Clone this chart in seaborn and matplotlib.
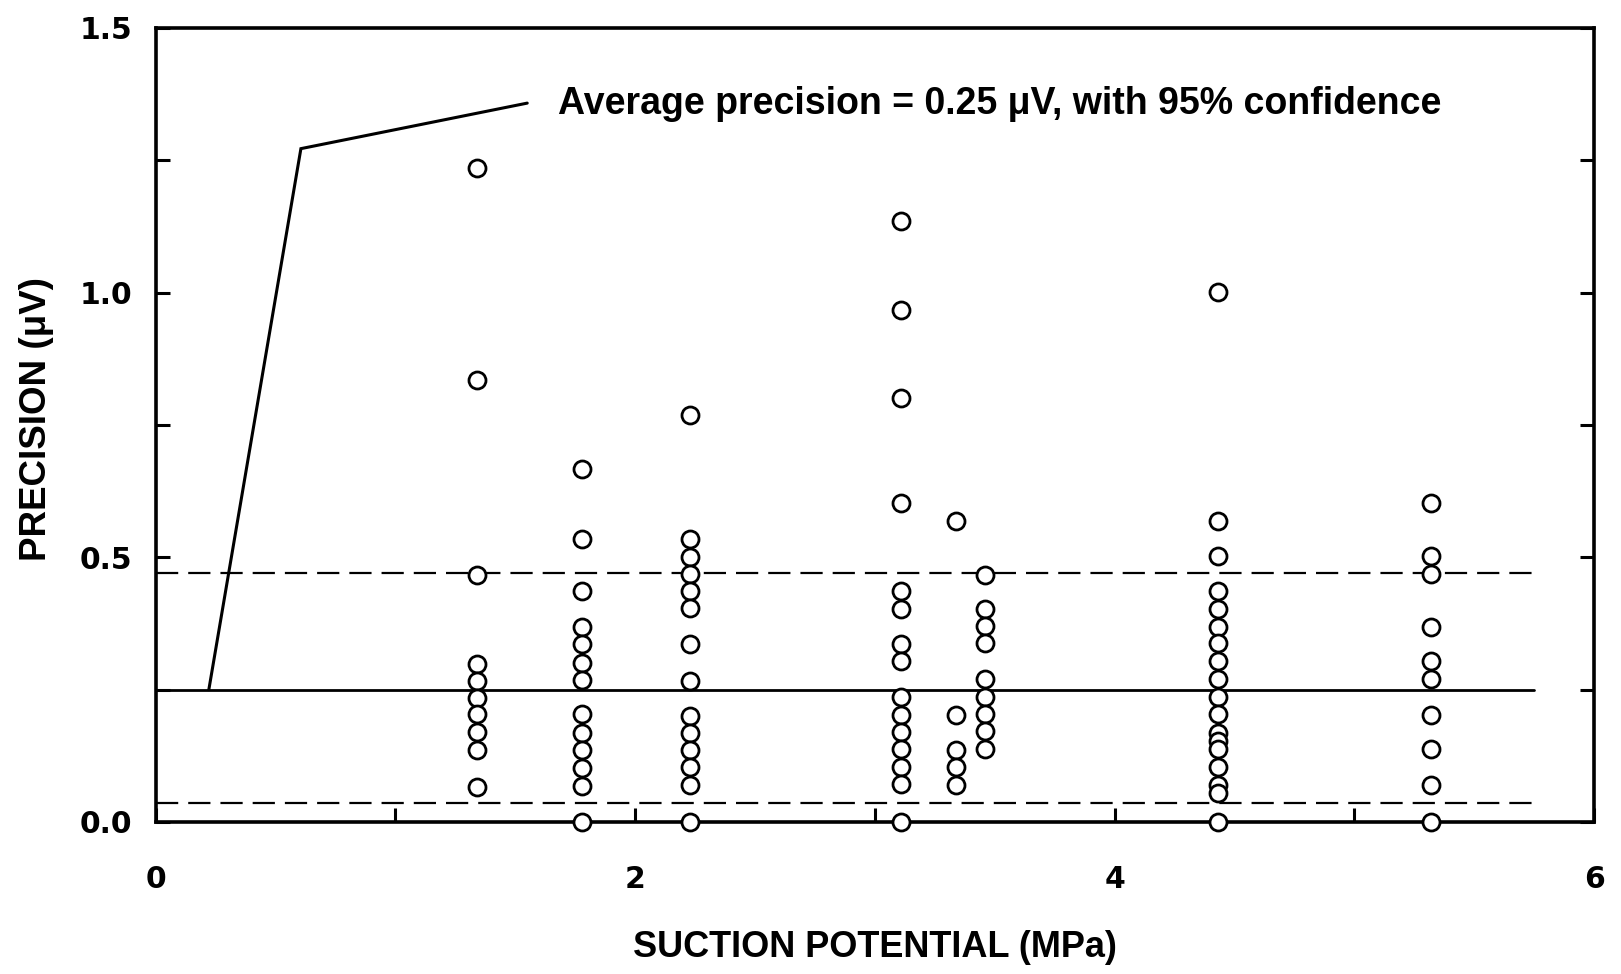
import matplotlib
matplotlib.use("Agg")
import matplotlib.pyplot as plt
import numpy as np
import pandas as pd
import seaborn as sns

# ---------------- data ----------------
suction_levels = [1.34, 1.78, 2.23, 3.11, 3.34, 3.46, 4.43, 5.32]

prec_1_34 = [1.235, 0.834, 0.467, 0.299, 0.267, 0.235, 0.204, 0.170, 0.136, 0.066]
prec_1_78 = [0.667, 0.534, 0.437, 0.369, 0.336, 0.301, 0.268, 0.204, 0.169, 0.136,
             0.102, 0.068, 0.0]
prec_2_23 = [0.768, 0.535, 0.501, 0.469, 0.437, 0.404, 0.336, 0.267, 0.200, 0.169,
             0.136, 0.103, 0.069, 0.0]
prec_3_11 = [1.135, 0.967, 0.801, 0.602, 0.436, 0.403, 0.337, 0.304, 0.236, 0.203,
             0.170, 0.138, 0.104, 0.071, 0.0]
prec_3_34 = [0.569, 0.202, 0.135, 0.103, 0.070]
prec_3_46 = [0.467, 0.403, 0.371, 0.339, 0.271, 0.237, 0.204, 0.171, 0.138]
prec_4_43 = [1.002, 0.569, 0.503, 0.437, 0.403, 0.369, 0.338, 0.304, 0.270, 0.237,
             0.204, 0.169, 0.153, 0.138, 0.103, 0.070, 0.054, 0.0]
prec_5_32 = [0.603, 0.503, 0.469, 0.369, 0.304, 0.270, 0.203, 0.137, 0.069, 0.0]

precision_groups = [prec_1_34, prec_1_78, prec_2_23, prec_3_11,
                    prec_3_34, prec_3_46, prec_4_43, prec_5_32]

mean_precision = 0.25
upper_limit = 0.47
lower_limit = 0.035
line_x = [0.0, 5.75]

leader_x = [0.222, 0.606, 1.550]
leader_y = [0.25, 1.272, 1.358]
annotation = "Average precision = 0.25 \u03bcV, with 95% confidence"
annot_x, annot_y = 1.68, 1.337

x_major = [0, 2, 4, 6]
x_minor = [1, 3, 5]
y_major = [0.0, 0.5, 1.0, 1.5]
y_minor = [0.25, 0.75, 1.25]
x_ticklabels = ["0", "2", "4", "6"]
y_ticklabels = ["0.0", "0.5", "1.0", "1.5"]

xlabel = "SUCTION POTENTIAL (MPa)"
ylabel = "PRECISION (\u03bcV)"

rows = []
for s, vals in zip(suction_levels, precision_groups):
    for v in vals:
        rows.append({"suction": s, "precision": v})
df = pd.DataFrame(rows)

# ---------------- figure ----------------
sns.set_style("ticks")
plt.rcParams["font.family"] = ["Liberation Sans", "DejaVu Sans"]
plt.rcParams["font.weight"] = "bold"
for key in ["text.color", "axes.labelcolor", "xtick.color", "ytick.color",
            "axes.edgecolor"]:
    plt.rcParams[key] = "black"

fig = plt.figure(figsize=(16.21, 9.74), dpi=100)
ax = fig.add_axes([0.0960, 0.1561, 0.8874, 0.8152])

# reference lines
ax.plot(line_x, [mean_precision] * 2, color="black", lw=2.0, zorder=2)
ax.plot(line_x, [upper_limit] * 2, color="black", lw=1.6,
        dashes=(10, 4.5), zorder=2)
ax.plot(line_x, [lower_limit] * 2, color="black", lw=1.6,
        dashes=(10, 4.5), zorder=2)

# leader line
ax.plot(leader_x, leader_y, color="black", lw=2.2, zorder=2,
        solid_joinstyle="miter")

# points
sns.scatterplot(data=df, x="suction", y="precision", ax=ax, marker="o",
                s=150, facecolor="white", edgecolor="black", linewidth=2.0,
                clip_on=False, zorder=5, legend=False)

ax.text(annot_x, annot_y, annotation, fontsize=27, fontweight="bold",
        color="black", ha="left", va="baseline",
        family=["Liberation Sans", "DejaVu Sans"])

ax.set_xlim(0, 6)
ax.set_ylim(0, 1.5)
ax.set_xticks(x_major)
ax.set_xticks(x_minor, minor=True)
ax.set_yticks(y_major)
ax.set_yticks(y_minor, minor=True)
ax.set_xticklabels(x_ticklabels)
ax.set_yticklabels(y_ticklabels)

ax.tick_params(which="both", direction="in", length=10, width=2.2,
               right=True, top=False, color="black", labelcolor="black")
ax.tick_params(axis="y", which="major", pad=17)
ax.tick_params(axis="x", which="major", pad=31)
for lab in ax.get_xticklabels() + ax.get_yticklabels():
    lab.set_fontfamily("DejaVu Sans")
    lab.set_fontweight("heavy")
    lab.set_fontsize(21.5)

for sp in ax.spines.values():
    sp.set_linewidth(2.6)
    sp.set_color("black")

ax.set_xlabel(xlabel, fontsize=26, fontweight="bold", color="black")
ax.set_ylabel(ylabel, fontsize=26.5, fontweight="bold", color="black")
ax.xaxis.set_label_coords(0.5, -0.158)
ax.xaxis.label.set_va("center")
ax.yaxis.set_label_coords(-0.083, 0.507)
ax.yaxis.label.set_va("center")
ax.yaxis.label.set_ha("center")

fig.savefig("out.png", dpi=100, facecolor="white")
